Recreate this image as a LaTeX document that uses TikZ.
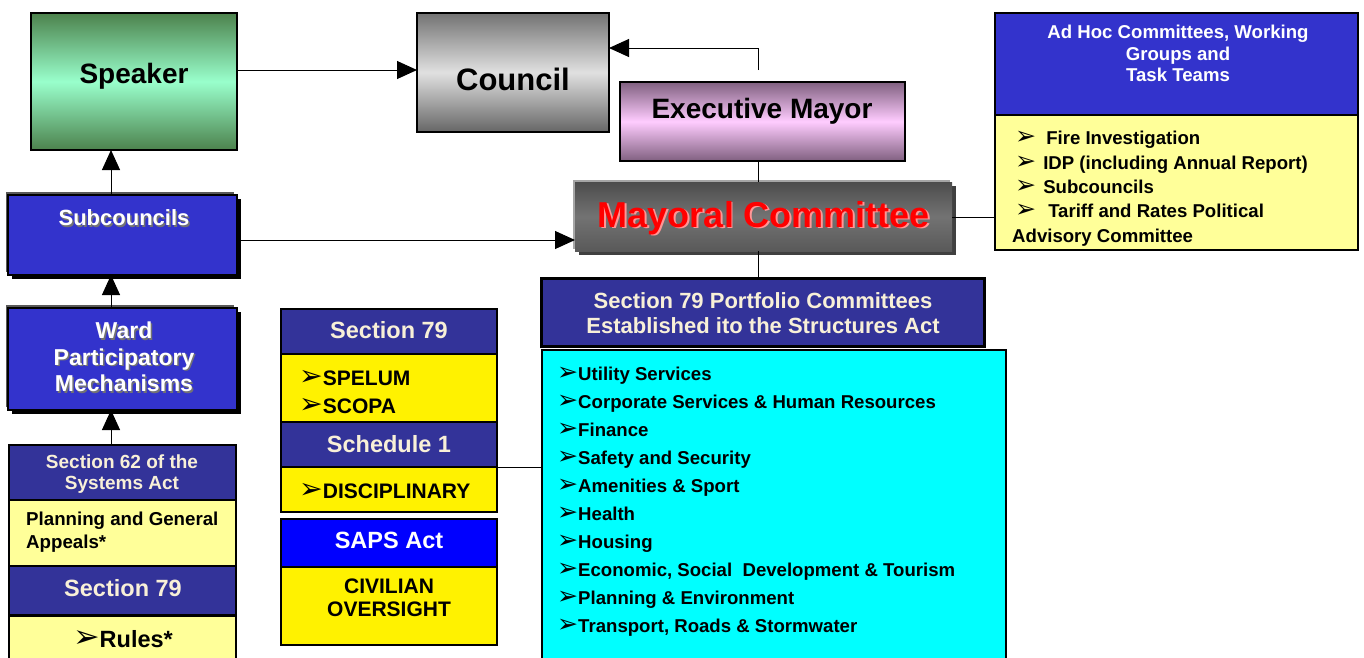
\documentclass[tikz,border=0pt]{standalone}
\usepackage{fontspec}
\setmainfont{Liberation Sans}
\newfontfamily\djv{DejaVu Sans}
\usetikzlibrary{arrows.meta}
\definecolor{dkblue}{HTML}{333399}
\definecolor{mblue}{HTML}{3333CC}
\definecolor{paleyel}{HTML}{FFFF99}
\definecolor{cream}{HTML}{F8F0D8}
\definecolor{cyanbox}{HTML}{00FFFF}
\newcommand{\myfs}[2]{\fontsize{#1}{#2}\selectfont}
\newcommand{\bul}{{\djv\bfseries\scalebox{1.35}{\char"27A2}}}
\begin{document}
\begin{tikzpicture}[x=1pt,y=-1pt,
  box/.style={draw=black, line width=1.1pt, anchor=north west, inner sep=0pt, outer sep=0pt},
  lbl/.style={font=\bfseries, inner sep=0pt, align=center},
  conn/.style={line width=1pt},
  arrowc/.style={line width=1pt, -{Triangle[length=20pt,width=18pt]}}]
\useasboundingbox (0,0) rectangle (1364,657);

% ---------- Speaker ----------
\node[box, minimum width=206pt, minimum height=137pt,
  top color=green!30!black!70!white, bottom color=green!30!black!70!white, middle color={rgb,255:red,153;green,255;blue,204}] (speaker) at (31,13) {};
\node[lbl, font=\bfseries\myfs{28}{32}] (speakert) at (134,76) {Speaker};

% ---------- Council ----------
\node[box, minimum width=192pt, minimum height=119pt,
  top color=black!55, bottom color=black!60, middle color=black!12] (council) at (417,13) {};
\node[lbl, font=\bfseries\myfs{31}{35}] (councilt) at (513,79) {Council};

% ---------- Executive Mayor ----------
\node[box, minimum width=285pt, minimum height=79pt,
  top color={rgb,255:red,128;green,96;blue,128}, bottom color={rgb,255:red,128;green,96;blue,128}, middle color={rgb,255:red,255;green,204;blue,255}] (mayor) at (620,82) {};
\node[lbl, font=\bfseries\myfs{28}{32}] (mayort) at (762,111) {Executive Mayor};

% ---------- Mayoral Committee ----------
\fill[black!75] (579,186) rectangle (956,255);
\fill[black!35] (573,180) rectangle (950,249);
\node[box, draw=none, minimum width=377pt, minimum height=69pt,
  top color=black!70, bottom color=black!65, middle color=black!55] (mayoral) at (575,182) {};
\node[lbl, text={rgb,255:red,255;green,150;blue,150}, font=\bfseries\myfs{36}{40}] (mayorals) at (765.5,219.5) {Mayoral Committee};
\node[lbl, text=red, font=\bfseries\myfs{36}{40}] (mayoralt) at (764,218) {Mayoral Committee};

% ---------- Ad Hoc ----------
\node[box, fill=mblue, minimum width=363pt, minimum height=102pt] (adhoc) at (995,13) {};
\node[box, fill=paleyel, minimum width=363pt, minimum height=135pt] (adhocl) at (995,115) {};
\node[lbl, text=white, font=\bfseries\myfs{18.6}{21.5}, anchor=north] (adhoct) at (1178,25) {Ad Hoc Committees, Working\\Groups and\\Task Teams};
\node[lbl, align=left, anchor=north west, font=\bfseries\myfs{18.6}{24.4}] (adhocitems) at (1012,131)
 {\hspace{3pt}\bul\hspace{10pt}Fire Investigation\\
  \hspace{3pt}\bul\hspace{7pt}IDP (including Annual Report)\\
  \hspace{3pt}\bul\hspace{7pt}Subcouncils\\
  \hspace{3pt}\bul\hspace{12pt}Tariff and Rates Political\\
  Advisory Committee};

% ---------- Subcouncils ----------
\fill[black!65] (6,192) rectangle (234,272);
\fill[black] (12,199) rectangle (241,279);
\node[box, fill=mblue, minimum width=229pt, minimum height=80pt] (subc) at (8,195) {};
\node[lbl, text=black!55, font=\bfseries\myfs{22}{26}] (subcs) at (125.5,219.5) {Subcouncils};
\node[lbl, text=white, font=\bfseries\myfs{22}{26}] (subct) at (124,218) {Subcouncils};

% ---------- Ward ----------
\fill[black!65] (6,305) rectangle (234,407);
\fill[black] (12,312) rectangle (241,414);
\node[box, fill=mblue, minimum width=229pt, minimum height=102pt] (ward) at (8,308) {};
\node[lbl, text=black!55, font=\bfseries\myfs{23}{26.5}] (wards) at (125.5,358.5) {Ward\\Participatory\\Mechanisms};
\node[lbl, text=white, font=\bfseries\myfs{23}{26.5}] (wardt) at (124,357) {Ward\\Participatory\\Mechanisms};

% ---------- Left column ----------
\node[box, fill=dkblue, minimum width=227pt, minimum height=55pt] (sec62) at (9,445) {};
\node[lbl, text=cream, font=\bfseries\myfs{19}{21.5}] (sec62t) at (122,474) {Section 62 of the\\Systems Act};
\node[box, fill=paleyel, minimum width=227pt, minimum height=66pt] (plan) at (9,500) {};
\node[lbl, align=left, anchor=west, font=\bfseries\myfs{18.7}{23}] (plant) at (26,532) {Planning and General\\Appeals*};
\node[box, fill=dkblue, minimum width=227pt, minimum height=49pt] (sec79l) at (9,566) {};
\node[lbl, text=cream, font=\bfseries\myfs{23.5}{27}] (sec79lt) at (123,588) {Section 79};
\node[box, fill=paleyel, minimum width=227pt, minimum height=50pt] (rules) at (9,616) {};
\node[lbl, font=\bfseries\myfs{23.5}{27}] (rulest) at (123,639) {\bul Rules*};

% ---------- Middle column ----------
\node[box, fill=dkblue, minimum width=216pt, minimum height=45pt] (sec79m) at (281,309) {};
\node[lbl, text=cream, font=\bfseries\myfs{23.5}{27}] (sec79mt) at (389,330) {Section 79};
\node[box, fill=yellow, minimum width=216pt, minimum height=68pt] (spel) at (281,354) {};
\node[lbl, align=left, anchor=west, font=\bfseries\myfs{21}{28}] (spelt) at (299,392) {\bul SPELUM\\\bul SCOPA};
\node[box, fill=dkblue, minimum width=216pt, minimum height=45pt] (sched) at (281,422) {};
\node[lbl, text=cream, font=\bfseries\myfs{23.5}{27}] (schedt) at (389,444) {Schedule 1};
\node[box, fill=yellow, minimum width=216pt, minimum height=45pt] (disc) at (281,467) {};
\node[lbl, align=left, anchor=west, font=\bfseries\myfs{21}{24}] (disct) at (299,491) {\bul DISCIPLINARY};
\node[box, fill=blue, minimum width=216pt, minimum height=48pt] (saps) at (281,519) {};
\node[lbl, text=white, font=\bfseries\myfs{23.5}{27}] (sapst) at (389,540) {SAPS Act};
\node[box, fill=yellow, minimum width=216pt, minimum height=78pt] (civ) at (281,567) {};
\node[lbl, font=\bfseries\myfs{21}{23.5}] (civt) at (389,598) {CIVILIAN\\OVERSIGHT};

% ---------- Portfolio committees ----------
\node[box, fill=dkblue, line width=3pt, minimum width=443pt, minimum height=68pt] (port) at (541,278) {};
\node[lbl, text=cream, font=\bfseries\myfs{22}{25}] (portt) at (763,313) {Section 79 Portfolio Committees\\Established ito the Structures Act};
\node[box, fill=cyanbox, minimum width=464pt, minimum height=320pt] (list) at (542,350) {};
\node[lbl, align=left, anchor=north west, font=\bfseries\myfs{18.6}{28}] (listt) at (557,367)
 {\bul Utility Services\\
  \bul Corporate Services \& Human Resources\\
  \bul Finance\\
  \bul Safety and Security\\
  \bul Amenities \& Sport\\
  \bul Health\\
  \bul Housing\\
  \bul Economic, Social\ \ Development \& Tourism\\
  \bul Planning \& Environment\\
  \bul Transport, Roads \& Stormwater};

% ---------- Connectors ----------
\coordinate (emtop) at (758,70);
\coordinate (ctgt) at (609,48);
\coordinate (sc240) at (237,240);
\coordinate (mc240) at (575,240);
\coordinate (mcr) at (952,217);
\coordinate (adl) at (995,217);
\coordinate (d467) at (497,467);
\coordinate (l467) at (542,467);

\draw[arrowc] (speaker.east |- 0,70) -- (council.west |- 0,70);
\draw[arrowc] (emtop) |- (ctgt);
\draw[conn] (mayor.south -| emtop) -- (mayoral.north -| emtop);
\draw[conn] (mayoral.south -| emtop) -- (port.north -| emtop);
\draw[conn] (mcr) -- (adl);
\draw[arrowc] (sc240) -- (mc240);
\draw[arrowc] (subc.north -| 111,0) -- (speaker.south -| 111,0);
\draw[arrowc] (ward.north -| 111,0) -- (subc.south -| 111,0);
\draw[conn] (d467) -- (l467);
\draw[arrowc] (sec62.north -| 111,0) -- (ward.south -| 111,0);
\end{tikzpicture}
\end{document}
